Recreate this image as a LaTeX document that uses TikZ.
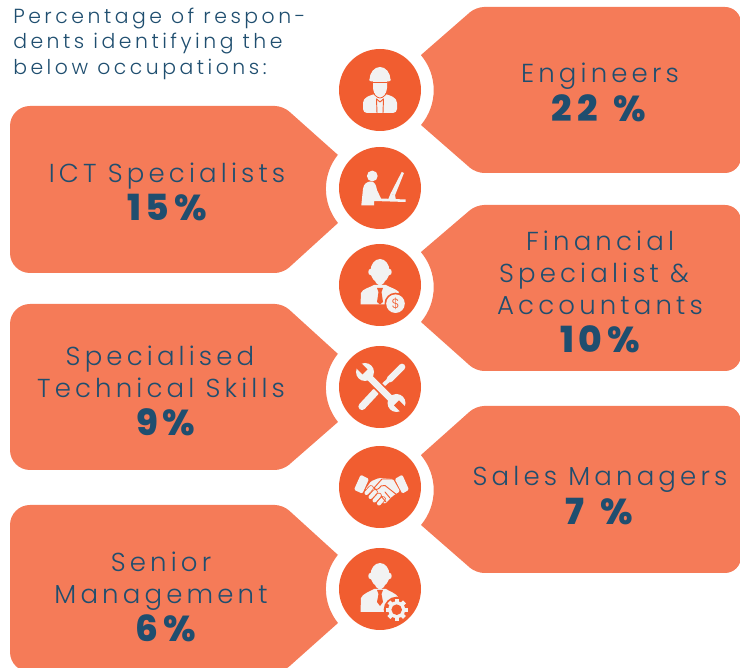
\documentclass[tikz,border=0pt]{standalone}
\usepackage{fontspec}
\newfontfamily\lt[LetterSpace=16]{Poppins Light}
\newfontfamily\hd[LetterSpace=17.2]{Poppins Light}
\newfontfamily\bd[LetterSpace=13]{Poppins ExtraBold}
\definecolor{tagc}{HTML}{F57B58}
\definecolor{circ}{HTML}{F15D30}
\definecolor{ink}{HTML}{1F4E6F}
\definecolor{ico}{HTML}{F2F2F2}
\tikzset{
 tagshape/.style={fill=tagc},
 disc/.style={circle,fill=circ,minimum size=61.5pt,inner sep=0pt},
 lab/.style={text=ink,align=center,font=\lt\fontsize{19.5}{24}\selectfont,inner sep=0pt},
 val/.style={text=ink,font=\bd\fontsize{27}{30}\selectfont,inner sep=0pt},
 head/.style={anchor=base west,text=ink,font=\hd\fontsize{15.3}{18}\selectfont,inner sep=0pt},
 iconf/.style={fill=ico},
 cut/.style={draw=circ,line width=.7pt,line cap=round,line join=round}
}
\newcommand{\lefttag}[3]{%
 \fill[tagshape,rounded corners=15pt] (10,668-#2) -- (10,668-#3) -- (200,668-#3)
   [rounded corners=6pt] -- (283,668-#3) [rounded corners=0pt] -- (338,668-#1-34)
   arc[start angle=219,end angle=141,radius=54.3*1] -- (338,668-#1+34)
   [rounded corners=6pt] -- (283,668-#2) [rounded corners=15pt] -- (200,668-#2) -- cycle;}
\newcommand{\righttag}[3]{%
 \fill[tagshape,rounded corners=12pt] (741,668-#2) -- (741,668-#3) -- (600,668-#3)
   [rounded corners=6pt] -- (476,668-#3) [rounded corners=0pt] -- (421,668-#1-35)
   arc[start angle=-40,end angle=40,radius=54.3*1] -- (421,668-#1+35)
   [rounded corners=6pt] -- (476,668-#2) [rounded corners=12pt] -- (600,668-#2) -- cycle;}
\newcommand{\manhead}{%
 \fill[iconf] (0,14) ellipse (9.5 and 12);
 \fill[iconf] (-9.5,13) ellipse (2.2 and 3.2) (9.5,13) ellipse (2.2 and 3.2);
 \fill[iconf] (-6,8) -- (6,8) -- (4,2) -- (0,-1) -- (-4,2) -- cycle;}
\begin{document}
\begin{tikzpicture}[x=.75pt,y=.75pt]
\useasboundingbox (0,0) rectangle (740,668);
\clip (0,0) rectangle (740,668);
% tags
\righttag{90}{7}{173}
\righttag{287}{205}{371}
\righttag{490}{406}{573}
\lefttag{189}{106}{273}
\lefttag{388}{304}{470}
\lefttag{589}{505}{672}
% discs
\node[disc] (c1) at (380,668-90) {};
\node[disc] (c2) at (380,668-188) {};
\node[disc] (c3) at (380,668-285) {};
\node[disc] (c4) at (380,668-387) {};
\node[disc] (c5) at (380,668-487) {};
\node[disc] (c6) at (380,668-589) {};
% engineer
\begin{scope}[shift={(c1.center)}]
 \fill[iconf,rounded corners=3pt] (-17,-23) -- (-17,-9) -- (-7,-4) -- (7,-4) -- (17,-9) -- (17,-23) -- cycle;
 \fill[iconf] (-7,9) -- (-7,2) .. controls (-7,-4) and (-3,-7) .. (0,-7) .. controls (3,-7) and (7,-4) .. (7,2) -- (7,9) -- cycle;
 \draw[draw=circ,line width=.6pt] (-7.6,1) .. controls (-7.5,-4) and (-3,-8) .. (0,-8) .. controls (3,-8) and (7.5,-4) .. (7.6,1);
 \fill[iconf] (-10.5,10) arc[start angle=180,end angle=0,x radius=10.5,y radius=13] -- cycle;
 \fill[iconf,rounded corners=1pt] (-11.5,11) -- (11.5,11) -- (10,8.5) -- (-10,8.5) -- cycle;
 \draw[cut] (-7,7.3) -- (7,7.3);
 \draw[cut] (-3.5,-9) -- (-3,-23) (3.5,-9) -- (3,-23);
 \draw[cut] (-3.5,-9) -- (0,-12) -- (3.5,-9);
\end{scope}
% computer user
\begin{scope}[shift={(c2.center)}]
 \fill[iconf] (-7.7,12) circle (5.4);
 \fill[iconf] (-18.7,-17.3) -- (-17,-1) .. controls (-16.5,4) and (-13,6.5) .. (-9.3,6.5) .. controls (-5,6.5) and (-4,3) .. (-3,-2) -- (1,-10.5) -- (25.7,-11.5) -- (25.7,-14) -- (-6,-13) -- (-6,-17.3) -- cycle;
 \fill[iconf] (21.7,16) -- (24,15) -- (15,-7.3) -- (10.5,-5.7) -- cycle;
 \fill[iconf] (10.5,-5.7) -- (15,-7.3) -- (16,-12) -- (8,-12) -- cycle;
\end{scope}
% finance
\begin{scope}[shift={(c3.center)}]
 \manhead
 \fill[iconf] (-19.5,-19.5) -- (-19,-8) .. controls (-18,-4) and (-9,-2) .. (-6,0) -- (6,0) .. controls (9,-2) and (16,-4) .. (19,-7) -- (12,-19.5) -- cycle;
 \fill[circ] (-3,-3) -- (3,-3) -- (1.5,-7) -- (3,-17) -- (0,-19.5) -- (-3,-17) -- (-1.5,-7) -- cycle;
 \fill[circ] (15.5,-18.7) circle (11);
 \fill[iconf] (15.5,-18.7) circle (9.3);
 \node[text=circ,font=\fontspec{Poppins Light}\fontsize{10}{10}\selectfont,inner sep=0pt] (dollar) at (15.5,-18.7) {\$};
\end{scope}
% tools
\begin{scope}[shift={(c4.center)}]
 \draw[ico,line width=5.4pt,line cap=round] (-18,-19.5) -- (-4.5,-5);
 \draw[ico,line width=3pt] (-4.5,-5) -- (10,8);
 \draw[ico,line width=5pt,line cap=round] (10,8) -- (22,20);
 \draw[circ,line width=7.4pt] (-9,8) -- (9,-10);
 \draw[ico,line width=4.8pt] (-15,14) -- (15,-16);
 \fill[ico] (-15,15) circle (9) (16.5,-16) circle (9);
 \fill[circ] (-12.5,17.5) -- (-17.5,12.5) -- (-26,21) -- (-21,26) -- cycle;
 \fill[circ] (19,-13.5) -- (14,-18.5) -- (22.5,-27) -- (27.5,-22) -- cycle;
\end{scope}
% handshake
\begin{scope}[shift={(c5.center)}]
 \fill[ico,rounded corners=1pt] (-26,-2.7) -- (-19.3,12.3) -- (-11,8) -- (-17.7,-6.7) -- cycle;
 \fill[ico,rounded corners=1pt] (29,-2.7) -- (22.3,12.3) -- (14.7,8) -- (22.3,-6.7) -- cycle;
 \fill[ico,rounded corners=1pt] (-9,5.7) -- (-1,9) -- (13,8) -- (20,-4.3) -- (12.3,-9.3) -- (5,-17) -- (0,-14) -- (-15,-3) -- cycle;
 \foreach \a/\b/\c/\d in {-13.5/-6/-9/-1,-9.5/-10/-5/-5,-5.5/-13.5/-1/-8.5,-1/-16.5/3/-12}{
  \draw[circ,line width=4.2pt,line cap=round] (\a,\b) -- (\c,\d);
  \draw[ico,line width=3pt,line cap=round] (\a,\b) -- (\c,\d);}
 \draw[cut] (13,8) -- (2,8) -- (-6,-1) .. controls (-4,-4) and (-1,-2) .. (1,1) -- (5,1.5) -- (17,-8);
 \draw[cut] (6,-15) -- (1,-9) (10,-11) -- (5,-5);
\end{scope}
% manager
\begin{scope}[shift={(c6.center)}]
 \manhead
 \fill[iconf] (-19.5,-23) -- (-19,-9) .. controls (-18,-5) and (-9,-2) .. (-6,0) -- (6,0) .. controls (9,-2) and (17,-5) .. (18,-8) -- (18,-23) -- cycle;
 \fill[circ] (-3,-1) -- (3,-1) -- (1.5,-5) -- (3,-13) -- (0,-17) -- (-3,-13) -- (-1.5,-5) -- cycle;
 \fill[circ] (16.7,-20.7) circle (13);
 \foreach \a in {0,45,...,315}{\fill[ico,rotate around={\a:(16.7,-20.7)}] (14.6,-9.7) rectangle (18.8,-20.7);}
 \fill[ico] (16.7,-20.7) circle (8.5);
 \fill[circ] (16.7,-20.7) circle (5.3);
\end{scope}
% heading
\node[head] (h1) at (13,668-24) {Percentage of respon-};
\node[head] (h2) at (13,668-49) {dents identifying the};
\node[head] (h3) at (13,668-75) {below occupations:};
% labels
\node[lab,anchor=base] (e) at (600,668-83) {Engineers};
\node[val,anchor=base] (ev) at (599,668-122) {22\hspace{12pt}\%};
\node[lab,anchor=base] (i) at (167,668-183) {ICT Specialists};
\node[val,anchor=base] (iv) at (167,668-221) {15\%};
\node[lab,anchor=base] (f1) at (600,668-251) {Financial};
\node[lab,anchor=base] (f2) at (594,668-283) {Specialist \&};
\node[lab,anchor=base] (f3) at (600,668-315) {Accountants};
\node[val,anchor=base] (fv) at (600,668-353) {10\%};
\node[lab,anchor=base] (s1) at (160,668-366) {Specialised};
\node[lab,anchor=base] (s2) at (161,668-398) {Technical Skills};
\node[val,anchor=base] (sv) at (166,668-436) {9\%};
\node[lab,anchor=base] (m) at (600,668-486) {Sales Managers};
\node[val,anchor=base] (mv) at (599,668-525) {7\hspace{12pt}\%};
\node[lab,anchor=base] (n1) at (161,668-572) {Senior};
\node[lab,anchor=base] (n2) at (161,668-604) {Management};
\node[val,anchor=base] (nv) at (166,668-642) {6\%};
\end{tikzpicture}
\end{document}
